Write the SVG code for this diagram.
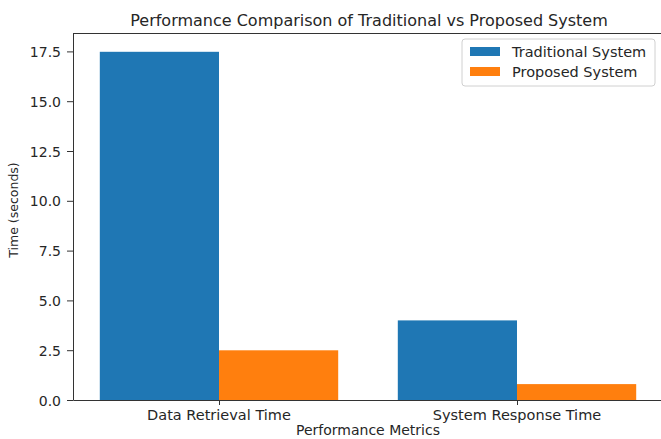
<svg xmlns="http://www.w3.org/2000/svg" width="661" height="439" viewBox="0 0 661 439">
<style>
text{font-family:"DejaVu Sans",sans-serif;fill:#262626}
.tick{font-size:14.5px}
.ytk{font-size:14px;text-anchor:end}
.xt{text-anchor:middle}
.tk{stroke:#333;stroke-width:1}
.trad{fill:#1f77b4}
.prop{fill:#ff7f0e}
</style>
<rect width="661" height="439" fill="#fff"/>
<text x="369" y="26" font-size="16" text-anchor="middle">Performance Comparison of Traditional vs Proposed System</text>
<g id="bars">
<rect id="trad-data" class="trad" x="99.8" y="51.8" width="119.2" height="348.2"/>
<rect id="prop-data" class="prop" x="219" y="350.3" width="119.2" height="49.7"/>
<rect id="trad-resp" class="trad" x="397.8" y="320.4" width="119.2" height="79.6"/>
<rect id="prop-resp" class="prop" x="517" y="384.1" width="119.2" height="15.9"/>
</g>
<g id="axes" fill="none" stroke="#333" stroke-width="1">
<path d="M73.5 33.5V400.5H661M73 33.5H661"/>
</g>
<g id="yticks">
<path class="tk" d="M67 400.5h6M67 350.7h6M67 300.9h6M67 251.1h6M67 201.3h6M67 151.5h6M67 101.7h6M67 51.9h6"/>
<text class="ytk" x="61" y="405.5">0.0</text>
<text class="ytk" x="61" y="355.7">2.5</text>
<text class="ytk" x="61" y="305.9">5.0</text>
<text class="ytk" x="61" y="256.1">7.5</text>
<text class="ytk" x="61" y="206.3">10.0</text>
<text class="ytk" x="61" y="156.5">12.5</text>
<text class="ytk" x="61" y="106.7">15.0</text>
<text class="ytk" x="61" y="56.9">17.5</text>
</g>
<g id="xticks">
<path class="tk" d="M219.5 400v5M517.5 400v5"/>
<text class="tick xt" x="219" y="420">Data Retrieval Time</text>
<text class="tick xt" x="517" y="420">System Response Time</text>
</g>
<text x="368" y="435" font-size="14" text-anchor="middle">Performance Metrics</text>
<text x="0" y="0" font-size="12.5" text-anchor="middle" transform="translate(18 210) rotate(-90)">Time (seconds)</text>
<g id="legend">
<rect x="462" y="39" width="193" height="47" rx="3" fill="#fff" fill-opacity="0.8" stroke="#d0d0d0"/>
<rect class="trad" x="470" y="47" width="30" height="9"/>
<text x="512" y="57" font-size="14.5">Traditional System</text>
<rect class="prop" x="470" y="67" width="30" height="9"/>
<text x="512" y="77" font-size="14.5">Proposed System</text>
</g>
</svg>
